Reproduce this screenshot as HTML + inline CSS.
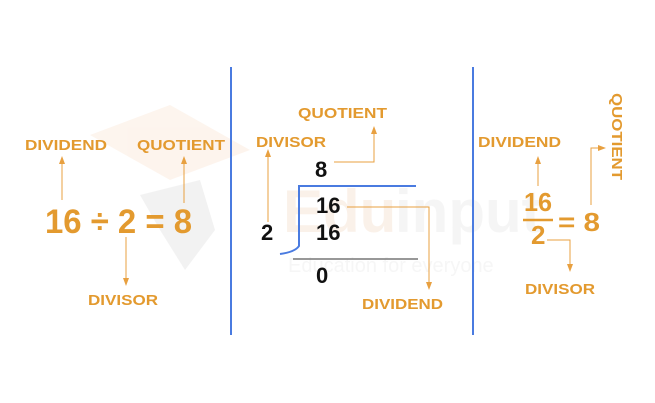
<!DOCTYPE html>
<html><head><meta charset="utf-8"><style>html,body{margin:0;padding:0;background:#fff}svg{display:block}</style></head>
<body>
<svg width="655" height="403" viewBox="0 0 655 403" xmlns="http://www.w3.org/2000/svg" font-family="Liberation Sans, sans-serif" font-weight="bold">
<defs>
<marker id="a" markerWidth="8" markerHeight="8" refX="4" refY="4" orient="auto" markerUnits="userSpaceOnUse"><path d="M0,1 L8,4 L0,7 z" fill="#E8A040"/></marker>
</defs>
<!-- faint watermark -->
<g opacity="0.5">
<polygon points="90,135 170,105 250,150 170,180" fill="#FCEBDD"/>
<polygon points="140,195 200,180 215,230 185,270 160,230" fill="#E6E6E6"/>
<text x="283" y="232" font-size="60" fill="#F7E4D5">Edu</text>
<text x="395" y="232" font-size="60" fill="#ECECEC">input</text>
<text x="288" y="272" font-size="20" font-weight="normal" fill="#EEEEEE">Education for everyone</text>
</g>
<g stroke="#4A7BE0" stroke-width="2" fill="none">
<line x1="231" y1="67" x2="231" y2="335"/>
<line x1="473" y1="67" x2="473" y2="335"/>
<path d="M416,186 L299,186 L299,246 Q295,252 280,254"/>
</g>
<line x1="293" y1="259" x2="418" y2="259" stroke="#777" stroke-width="1.5"/>
<g stroke="#E8A040" stroke-width="1" fill="none">
<line x1="62" y1="200" x2="62" y2="160" marker-end="url(#a)"/>
<line x1="184" y1="203" x2="184" y2="160" marker-end="url(#a)"/>
<line x1="126" y1="237" x2="126" y2="282" marker-end="url(#a)"/>
<polyline points="334,162 374,162 374,130" marker-end="url(#a)"/>
<line x1="268" y1="222" x2="268" y2="153" marker-end="url(#a)"/>
<polyline points="347,207 429,207 429,286" marker-end="url(#a)"/>
<line x1="538" y1="186" x2="538" y2="160" marker-end="url(#a)"/>
<polyline points="591,205 591,148 602,148" marker-end="url(#a)"/>
<polyline points="547,240 570,240 570,268" marker-end="url(#a)"/>
</g>
<g fill="#E39A2F" font-size="15">
<text x="25" y="150" textLength="82" lengthAdjust="spacingAndGlyphs">DIVIDEND</text>
<text x="137" y="150" textLength="88" lengthAdjust="spacingAndGlyphs">QUOTIENT</text>
<text x="88" y="305" textLength="70" lengthAdjust="spacingAndGlyphs">DIVISOR</text>
<text x="298" y="118" textLength="89" lengthAdjust="spacingAndGlyphs">QUOTIENT</text>
<text x="256" y="147" textLength="70" lengthAdjust="spacingAndGlyphs">DIVISOR</text>
<text x="362" y="309" textLength="81" lengthAdjust="spacingAndGlyphs">DIVIDEND</text>
<text x="478" y="147" textLength="83" lengthAdjust="spacingAndGlyphs">DIVIDEND</text>
<text x="525" y="294" textLength="70" lengthAdjust="spacingAndGlyphs">DIVISOR</text>
<text transform="translate(612,93) rotate(90)" textLength="87" lengthAdjust="spacingAndGlyphs">QUOTIENT</text>
<text x="45" y="233" font-size="34" textLength="147" lengthAdjust="spacingAndGlyphs">16 ÷ 2 = 8</text>
<text x="524" y="211" font-size="26" textLength="28" lengthAdjust="spacingAndGlyphs">16</text>
<text x="531" y="244" font-size="26">2</text>
<text x="558" y="231" font-size="26" textLength="42" lengthAdjust="spacingAndGlyphs">= 8</text>
</g>
<line x1="523" y1="220" x2="553" y2="220" stroke="#E39A2F" stroke-width="2.5"/>
<g fill="#111" font-size="22">
<text x="315" y="177">8</text>
<text x="316" y="213">16</text>
<text x="261" y="240">2</text>
<text x="316" y="240">16</text>
<text x="316" y="283">0</text>
</g>
</svg>
</body></html>
